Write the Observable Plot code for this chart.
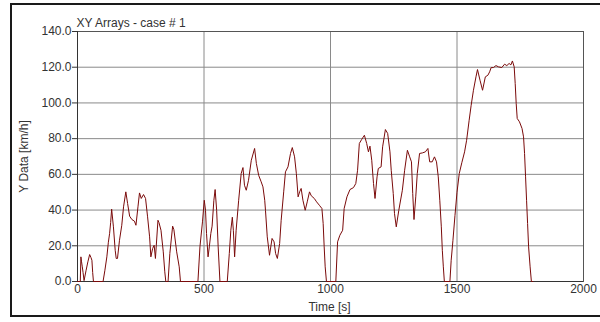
<!DOCTYPE html>
<html>
<head>
<meta charset="utf-8">
<script src="https://cdn.jsdelivr.net/npm/d3@7"></script>
<script src="https://cdn.jsdelivr.net/npm/@observablehq/plot@0.6"></script>
<style>
  html, body { margin: 0; padding: 0; background: #fff; overflow: hidden; }
  #wrap { position: relative; width: 600px; height: 322px; overflow: hidden; }
  #border { position: absolute; left: 10px; top: 3px; width: 600px; height: 310px; border: 2px solid #1a1a1a; pointer-events: none; }
</style>
</head>
<body>
<div id="wrap"><div id="border"></div></div>
<script>
const title = "XY Arrays - case # 1";
const xLabel = "Time [s]";
const yLabel = "Y Data [km/h]";
const xTicks = [0, 500, 1000, 1500, 2000];
const yTicks = [0, 20, 40, 60, 80, 100, 120, 140];

const time = [0,11,13.5,16,19,22,26,34,41,48,53,57,60,63,101,108,116,122,127,131,135,142,149,153,158,166,175,182,191,198,206,215,225,231,239,245,252,261,269,277,285,290,297,303,308,318,322,330,339,345,349,358,365,376,381,392,402,407,476,484,494,501,506,510,516,521,527,532,539,544,550,556,563,592,600,606,612,616,621,627,637,647,654,660,667,676,687,700,707,716,726,733,740,743,750,759,769,777,783,790,799,805,815,822,832,842,849,858,865,872,878,884,891,900,908,917,924,936,945,956,966,971,975,979,984,1021,1028,1037,1048,1054,1065,1077,1091,1100,1107,1114,1123,1134,1143,1150,1156,1163,1170,1176,1184,1189,1200,1206,1217,1226,1235,1240,1248,1253,1260,1270,1284,1293,1304,1313,1320,1325,1330,1337,1343,1352,1363,1375,1385,1392,1402,1411,1419,1426,1432,1438,1442,1446,1450,1472,1477,1484,1492,1500,1509,1519,1530,1538,1548,1556,1565,1575,1581,1591,1601,1612,1622,1629,1635,1644,1654,1664,1677,1688,1697,1706,1713,1719,1726,1730,1734,1738,1747,1757,1763,1767,1771,1775,1779,1783,1789,1794,1800];

const speed = [0,0,13.8,11,8.2,5,0.5,6.3,11,15.1,13.5,11.9,5,0,0,6,13.8,22,27,33,40.5,30.6,17.5,12.9,12.9,23.1,31.5,41.8,50.2,43.7,36.6,34.7,33.8,31.5,41.8,49.6,46.5,48.7,46.5,36.2,25,13.8,18.5,20.3,12.9,34.3,33,28.7,16.6,5.4,0,0,15.7,31,29,16.6,8.2,0,0,19.4,33.4,45.5,39.9,26.9,13.8,19.4,26.9,31,45.5,51.5,39.9,19.4,0,0,15.7,28.7,36,28.7,13.8,28.7,45.5,60.5,63.8,53.9,51.1,56.7,67.9,74.5,66.1,59.5,55.8,53,45.5,39.9,25,14.7,24.1,22.2,15.7,12.9,21.3,34.3,50.2,61.4,64.2,71.7,75,69.8,60.5,47.4,50.2,52.1,45.5,39.9,44.6,50.2,48,46.5,44.6,42.7,40.9,32.5,19.4,8.2,0,0,22.2,25.9,28.7,40.9,47.4,51.5,52.6,54.9,62.3,77.3,79.5,81.9,77.3,72.6,75.8,67.9,54.9,46.5,58.6,63.3,64.2,75.4,85.1,82.9,72.6,62.3,49.3,38,30.6,39.9,51.1,62.3,73.5,69.8,67,49.3,34.7,47.4,60.5,71.7,72,72.6,74.5,67,67,69.8,67,58.6,45.5,30.6,17.5,8.2,0,0,11.9,23.1,37,50,60.5,66.5,72.6,79.1,90.3,98.7,107.1,114.6,118.7,112.7,107.1,114.6,115.5,117.4,119.8,119.8,120.9,120.2,119.8,121.7,120.9,122.1,121.3,123.5,120.2,110.9,99.7,91.3,89.4,85.7,81,71.7,58.6,45.5,32.5,19.4,8.2,0,0];

const data = time.map((t, i) => ({t, v: speed[i]}));
const font = "'Liberation Sans', Arial, sans-serif";

const chart = Plot.plot({
  width: 600,
  height: 322,
  marginLeft: 77,
  marginRight: 17,
  marginTop: 31,
  marginBottom: 41,
  style: {fontFamily: font, fontSize: "12px", color: "#333", background: "transparent"},
  x: {domain: [0, 2000], label: null},
  y: {domain: [0, 140], label: null},
  marks: [
    Plot.gridX(xTicks, {stroke: "#8a8a8a", strokeOpacity: 1}),
    Plot.gridY(yTicks, {stroke: "#8a8a8a", strokeOpacity: 1}),
    Plot.frame({stroke: "#555"}),
    Plot.axisY(yTicks, {tickFormat: d3.format(".1f"), tickSize: 5, tickPadding: 1, label: null, fontSize: 12, fill: "#333"}),
    Plot.axisX(xTicks, {tickFormat: d => String(d), tickSize: 0, tickPadding: 3, label: null, fontSize: 12, fill: "#333"}),
    Plot.ruleX([0], {stroke: "#333"}),
    Plot.ruleY([0], {stroke: "#333"}),
    Plot.line(data, {x: "t", y: "v", stroke: "#7a0a0a", strokeWidth: 1}),
    Plot.text([title], {frameAnchor: "top-left", text: d => d, textAnchor: "start", lineAnchor: "middle", dx: -1, dy: -8, fontSize: 12, fill: "#333"}),
    Plot.text([xLabel], {frameAnchor: "bottom", text: d => d, textAnchor: "middle", lineAnchor: "middle", dx: -1, dy: 26, fontSize: 12, fill: "#333"}),
    Plot.text([yLabel], {frameAnchor: "left", text: d => d, rotate: -90, textAnchor: "middle", lineAnchor: "middle", dx: -53, dy: 0, fontSize: 12, fill: "#333"})
  ]
});
chart.style.position = "absolute";
chart.style.left = "0px";
chart.style.top = "0px";
document.getElementById("wrap").appendChild(chart);
</script>
</body>
</html>
